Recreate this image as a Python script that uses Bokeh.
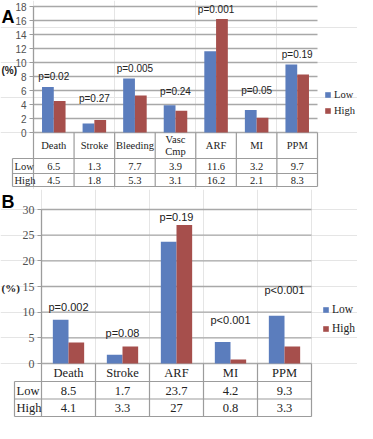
import numpy as np
from bokeh.plotting import figure
from bokeh.models import Range1d, LinearAxis, FixedTicker, Legend, LegendItem
from bokeh.layouts import column
from bokeh.core.properties import value
from bokeh.embed import file_html
from bokeh.resources import INLINE

# ---------------- data ----------------
SERIES = ["Low", "High"]

A_CATEGORIES = ["Death", "Stroke", "Bleeding", "Vasc\nCmp", "ARF", "MI", "PPM"]
A_LOW = [6.5, 1.3, 7.7, 3.9, 11.6, 3.2, 9.7]
A_HIGH = [4.5, 1.8, 5.3, 3.1, 16.2, 2.1, 8.3]
A_PVALUES = ["p=0.02", "p=0.27", "p=0.005", "p=0.24", "p=0.001", "p=0.05", "p=0.19"]
A_YTICKS = [0, 2, 4, 6, 8, 10, 12, 14, 16, 18]

B_CATEGORIES = ["Death", "Stroke", "ARF", "MI", "PPM"]
B_LOW = [8.5, 1.7, 23.7, 4.2, 9.3]
B_HIGH = [4.1, 3.3, 27, 0.8, 3.3]
B_PVALUES = ["p=0.002", "p=0.08", "p=0.19", "p<0.001", "p<0.001"]
B_YTICKS = [0, 5, 10, 15, 20, 25, 30]

# ---------------- layout (positions, not data) ----------------
A_PLABEL_Y = [8.0, 4.8, 9.1, 5.9, 17.6, 6.0, 11.1]
B_PLABEL_Y = [11.0, 5.9, 28.6, 8.5, 14.4]

A_LAYOUT = dict(W=357, H=189, plot_left=33, plot_right=317, y_top=6, y_zero=132,
                cat_bottom=158, low_bottom=173, high_bottom=186, label_left=12,
                legend_x=324, legend_c=(86.5, 102.8), legend_ih=13, pct_y=70, letter_y=16,
                tick_font="Liberation Sans", tick_size="10px",
                p_font="Liberation Sans", p_size="10px",
                pct_font="Liberation Sans", pct_size="10px",
                cat_size="10.5px", val_size="10.5px", leg_size="10.5px")
B_LAYOUT = dict(W=357, H=228, plot_left=41, plot_right=311, y_top=20, y_zero=174,
                cat_bottom=192, low_bottom=209.5, high_bottom=227, label_left=14,
                legend_x=322, legend_c=(112, 131), legend_ih=15, pct_y=98, letter_y=12,
                tick_font="Liberation Serif", tick_size="12px",
                p_font="Liberation Sans", p_size="11px",
                pct_font="Liberation Serif", pct_size="11px",
                cat_size="12.5px", val_size="12.5px", leg_size="11.5px")
LEGEND_SHIFT = 8

BLUE = "#5B7DBD"
RED = "#A64F4C"
GRID = "#A8A8A8"
TABLE = "#9C9C9C"
TXT = "#222222"
SERIF = "Liberation Serif"
SANS = "Liberation Sans"


def fmt(v):
    return f"{v:g}"


def panel(letter, cats, low, high, pvals, plabel_y, yticks, L):
    W, H = L["W"], L["H"]
    n = len(cats)
    colw = (L["plot_right"] - L["plot_left"]) / n
    ymax = yticks[-1]
    s = (L["y_zero"] - L["y_top"]) / ymax
    p = figure(width=W, height=H, output_backend="svg", toolbar_location=None,
               x_axis_location=None, y_axis_location=None, min_border=0, title=None,
               x_range=Range1d(-L["plot_left"] / colw, (W - L["plot_left"]) / colw),
               y_range=Range1d(-(H - L["y_zero"]) / s, L["y_zero"] / s),
               outline_line_color=None)
    p.extra_x_ranges = {"px": Range1d(0, W)}
    p.extra_y_ranges = {"py": Range1d(H, 0)}

    idx = np.arange(n)
    bw = 0.29

    # gridlines (value units)
    p.segment(x0=0, x1=n, y0=yticks, y1=yticks, line_color=GRID, line_width=1.3)

    # bars
    rl = p.vbar(x=idx + 0.5 - bw / 2, top=low, bottom=0, width=bw,
                fill_color=BLUE, line_color=None)
    rh = p.vbar(x=idx + 0.5 + bw / 2, top=high, bottom=0, width=bw,
                fill_color=RED, line_color=None)

    # p-value labels
    p.text(x=idx + 0.5, y=plabel_y, text=pvals, text_align="center",
           text_baseline="middle", text_font=value(L["p_font"]), text_font_size=L["p_size"],
           text_color=TXT)

    # y axis
    ax = LinearAxis(fixed_location=0, bounds=(0, ymax), ticker=FixedTicker(ticks=yticks),
                    axis_line_color=TABLE, axis_line_width=1.3,
                    major_tick_line_color=TABLE, major_tick_out=4, major_tick_in=0,
                    minor_tick_line_color=None, major_label_standoff=3,
                    major_label_text_font=L["tick_font"],
                    major_label_text_font_size=L["tick_size"],
                    major_label_text_color="#505050")
    p.add_layout(ax, "left")

    # data table
    yz, cb, lb, hb = L["y_zero"], L["cat_bottom"], L["low_bottom"], L["high_bottom"]
    p.segment(x0=list(range(n + 1)), x1=list(range(n + 1)), y0=yz, y1=hb,
              y_range_name="py", line_color=TABLE, line_width=1.2)
    p.segment(x0=L["label_left"], x1=L["plot_right"], y0=[cb, lb, hb], y1=[cb, lb, hb],
              x_range_name="px", y_range_name="py", line_color=TABLE, line_width=1.2)
    p.segment(x0=L["label_left"], x1=L["label_left"], y0=cb, y1=hb,
              x_range_name="px", y_range_name="py", line_color=TABLE, line_width=1.2)

    p.text(x=idx + 0.5, y=(yz + cb) / 2, text=cats, y_range_name="py",
           text_align="center", text_baseline="middle", text_font=value(SERIF),
           text_font_size=L["cat_size"], text_color=TXT, text_line_height=1.05)
    p.text(x=idx + 0.5, y=(cb + lb) / 2 + 0.5, text=[fmt(v) for v in low], y_range_name="py",
           text_align="center", text_baseline="middle", text_font=value(SERIF),
           text_font_size=L["val_size"], text_color=TXT)
    p.text(x=idx + 0.5, y=(lb + hb) / 2 + 0.5, text=[fmt(v) for v in high], y_range_name="py",
           text_align="center", text_baseline="middle", text_font=value(SERIF),
           text_font_size=L["val_size"], text_color=TXT)
    p.text(x=L["label_left"] + 2, y=[(cb + lb) / 2 + 0.5, (lb + hb) / 2 + 0.5], text=SERIES,
           x_range_name="px", y_range_name="py", text_align="left", text_baseline="middle",
           text_font=value(SERIF), text_font_size=L["val_size"], text_color=TXT)

    # panel letter and unit label
    p.text(x=1, y=L["letter_y"], text=[letter], x_range_name="px", y_range_name="py",
           text_align="left", text_baseline="middle", text_font=value(SANS),
           text_font_style="bold", text_font_size="18px", text_color="black")
    p.text(x=1, y=L["pct_y"], text=["(%)"], x_range_name="px", y_range_name="py",
           text_align="left", text_baseline="middle", text_font=value(L["pct_font"]),
           text_font_style="bold", text_font_size=L["pct_size"], text_color="#222222")

    # legend
    ih = L["legend_ih"]
    c1, c2 = L["legend_c"]
    spacing = max(0, int(round(c2 - c1 - ih)))
    top = c1 - ih / 2
    height = 2 * ih + spacing
    legend = Legend(items=[LegendItem(label=SERIES[0], renderers=[rl]),
                           LegendItem(label=SERIES[1], renderers=[rh])],
                    location=(L["legend_x"], H - (top + height) - LEGEND_SHIFT),
                    orientation="vertical", glyph_width=7, glyph_height=7,
                    label_standoff=3, label_height=ih, label_width=18, spacing=spacing,
                    padding=0, margin=0, border_line_color=None, background_fill_alpha=0,
                    label_text_font=SERIF, label_text_font_size=L["leg_size"],
                    label_text_color=TXT)
    p.add_layout(legend)
    return p


pA = panel("A", A_CATEGORIES, A_LOW, A_HIGH, A_PVALUES, A_PLABEL_Y, A_YTICKS, A_LAYOUT)
pB = panel("B", B_CATEGORIES, B_LOW, B_HIGH, B_PVALUES, B_PLABEL_Y, B_YTICKS, B_LAYOUT)

layout = column(pA, pB, spacing=0)
open("out.html", "w").write(file_html(layout, INLINE))
